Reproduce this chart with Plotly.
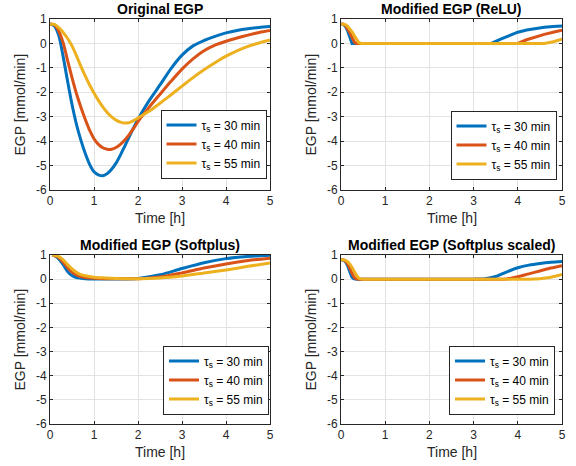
import plotly.graph_objects as go

# ---------------- data ----------------
SERIES_NAMES = ["τ<sub>s</sub> = 30 min", "τ<sub>s</sub> = 40 min", "τ<sub>s</sub> = 55 min"]
COLORS = ["#0072BD", "#D95319", "#EDB120"]
PANEL_TITLES = ["Original EGP", "Modified EGP (ReLU)", "Modified EGP (Softplus)", "Modified EGP (Softplus scaled)"]
X_TICKS = [0, 1, 2, 3, 4, 5]
Y_TICKS = [-6, -5, -4, -3, -2, -1, 0, 1]
Y_TICK_LABELS = ["-6", "-5", "-4", "-3", "-2", "-1", "0", "1"]

# Original EGP
T_ORIG = [0, 0.1, 0.2, 0.3, 0.4, 0.5, 0.6, 0.7, 0.8, 0.9, 1.0, 1.1, 1.2, 1.3, 1.4, 1.5, 1.6, 1.7, 1.8, 1.9, 2.0,
          2.25, 2.5, 2.75, 3.0, 3.25, 3.5, 3.75, 4.0, 4.25, 4.5, 4.75, 5.0]
ORIG_30 = [0.80, 0.72, 0.32, -0.55, -1.55, -2.5, -3.3, -3.95, -4.5, -4.95, -5.25, -5.38, -5.42, -5.33, -5.15, -4.9,
           -4.57, -4.2, -3.82, -3.45, -3.1, -2.35, -1.7, -1.03, -0.48, -0.1, 0.12, 0.29, 0.43, 0.53, 0.6, 0.65, 0.69]
ORIG_40 = [0.80, 0.76, 0.5, 0.02, -0.7, -1.4, -2.05, -2.6, -3.1, -3.55, -3.9, -4.13, -4.27, -4.33, -4.33, -4.26,
           -4.13, -3.95, -3.73, -3.48, -3.2, -2.62, -2.08, -1.55, -1.05, -0.63, -0.3, -0.07, 0.09, 0.22, 0.34, 0.45, 0.53]
ORIG_55 = [0.80, 0.78, 0.65, 0.45, 0.2, -0.1, -0.5, -0.93, -1.33, -1.7, -2.03, -2.33, -2.6, -2.83, -3.01, -3.14,
           -3.22, -3.26, -3.24, -3.16, -3.05, -2.78, -2.45, -2.1, -1.75, -1.4, -1.08, -0.79, -0.52, -0.3, -0.12, 0.02, 0.14]

# ReLU
T_RELU = [0, 0.05, 0.1, 0.15, 0.2, 0.25, 0.3, 0.35, 0.4, 0.45, 0.5, 1, 1.5, 2, 2.5, 3, 3.2, 3.4, 3.6, 3.8, 4.0,
          4.2, 4.4, 4.6, 4.8, 5.0]
RELU_30 = [0.8, 0.78, 0.7, 0.52, 0.25, 0.0, 0, 0, 0, 0, 0, 0, 0, 0, 0, 0, 0, 0, 0.17, 0.33, 0.46,
           0.55, 0.61, 0.66, 0.69, 0.71]
RELU_40 = [0.8, 0.79, 0.74, 0.62, 0.45, 0.25, 0.06, 0, 0, 0, 0, 0, 0, 0, 0, 0, 0, 0, 0, 0, 0,
           0.15, 0.27, 0.37, 0.46, 0.54]
RELU_55 = [0.8, 0.8, 0.77, 0.7, 0.6, 0.47, 0.32, 0.17, 0.04, 0, 0, 0, 0, 0, 0, 0, 0, 0, 0, 0, 0,
           0, 0, 0, 0.07, 0.17]

# Softplus
T_SOFT = [0.05, 0.1, 0.2, 0.3, 0.4, 0.5, 0.6, 0.7, 0.8, 1.0, 1.25, 1.5, 2.0, 2.5, 3.0, 3.5, 4.0, 4.5, 5.0]
SOFT_30 = [1.0, 0.97, 0.84, 0.6, 0.32, 0.15, 0.07, 0.04, 0.02, 0.01, 0.01, 0.01, 0.03, 0.18, 0.44, 0.68, 0.85, 0.94, 0.99]
SOFT_40 = [1.0, 0.98, 0.89, 0.7, 0.47, 0.29, 0.18, 0.11, 0.07, 0.04, 0.02, 0.02, 0.02, 0.09, 0.26, 0.46, 0.63, 0.77, 0.87]
SOFT_55 = [1.0, 0.99, 0.93, 0.8, 0.6, 0.42, 0.28, 0.19, 0.14, 0.08, 0.05, 0.03, 0.02, 0.05, 0.13, 0.25, 0.38, 0.53, 0.67]

# Softplus scaled
T_SCALED = [0, 0.05, 0.1, 0.15, 0.2, 0.25, 0.3, 0.35, 0.4, 0.45, 0.5, 0.75, 1, 2, 3, 3.25, 3.5, 3.75, 4.0,
            4.25, 4.5, 4.75, 5.0]
SCALED_30 = [0.8, 0.79, 0.72, 0.55, 0.3, 0.08, 0.01, 0, 0, 0, 0, 0, 0, 0, 0, 0.02, 0.11, 0.3, 0.47,
             0.58, 0.65, 0.7, 0.73]
SCALED_40 = [0.8, 0.8, 0.75, 0.63, 0.45, 0.24, 0.07, 0.01, 0, 0, 0, 0, 0, 0, 0, 0, 0, 0.01, 0.1,
             0.22, 0.34, 0.46, 0.56]
SCALED_55 = [0.8, 0.8, 0.78, 0.72, 0.62, 0.48, 0.32, 0.16, 0.05, 0.01, 0, 0, 0, 0, 0, 0, 0, 0, 0,
             0, 0.02, 0.08, 0.19]

PANELS = [
    (T_ORIG, [ORIG_30, ORIG_40, ORIG_55], "spline"),
    (T_RELU, [RELU_30, RELU_40, RELU_55], "linear"),
    (T_SOFT, [SOFT_30, SOFT_40, SOFT_55], "spline"),
    (T_SCALED, [SCALED_30, SCALED_40, SCALED_55], "spline"),
]

# ---------------- layout ----------------
W, H = 576, 466
FONT = "Liberation Sans, Arial, Helvetica, sans-serif"
AX_COLOR = "#262626"
GRID = "#e3e3e3"

X_DOMAINS = [[50 / W, 270 / W], [341 / W, 562 / W], [50 / W, 270 / W], [341 / W, 562 / W]]
Y_DOMAINS = [[1 - 190 / H, 1 - 19 / H], [1 - 190 / H, 1 - 19 / H],
             [1 - 424 / H, 1 - 255 / H], [1 - 424 / H, 1 - 255 / H]]
LEGEND_POS = [(266.5 / W, 1 - 178.5 / H), (556.5 / W, 1 - 179.5 / H),
              (269 / W, 1 - 414.5 / H), (555 / W, 1 - 414.5 / H)]

fig = go.Figure()
layout = dict(
    width=W, height=H, margin=dict(l=0, r=0, t=0, b=0, autoexpand=False),
    paper_bgcolor="white", plot_bgcolor="white",
    font=dict(family=FONT, size=12, color=AX_COLOR),
    annotations=[],
)

for i, (t, series, shape) in enumerate(PANELS):
    n = i + 1
    xa = "x" if n == 1 else f"x{n}"
    ya = "y" if n == 1 else f"y{n}"
    lg = "legend" if n == 1 else f"legend{n}"
    for j, vals in enumerate(series):
        fig.add_trace(go.Scatter(
            x=t, y=vals, mode="lines", name=SERIES_NAMES[j],
            line=dict(color=COLORS[j], width=3, shape=shape, smoothing=0.8 if shape == "spline" else None),
            xaxis=xa, yaxis=ya, legend=lg, showlegend=True,
        ))
    axkey = "xaxis" if n == 1 else f"xaxis{n}"
    aykey = "yaxis" if n == 1 else f"yaxis{n}"
    layout[axkey] = dict(
        domain=X_DOMAINS[i], anchor=ya, range=[0, 5], tickvals=X_TICKS,
        ticks="inside", ticklen=3, tickcolor=AX_COLOR, showline=True, linecolor=AX_COLOR,
        linewidth=1, mirror="ticks", showgrid=True, gridcolor=GRID, gridwidth=1, zeroline=False,
        tickfont=dict(size=12, color=AX_COLOR, family=FONT), fixedrange=True, automargin=False,
    )
    layout[aykey] = dict(
        domain=Y_DOMAINS[i], anchor=xa, range=[-6, 1], tickvals=Y_TICKS, ticktext=Y_TICK_LABELS,
        ticks="inside", ticklen=3, tickcolor=AX_COLOR, showline=True, linecolor=AX_COLOR,
        linewidth=1, mirror="ticks", showgrid=True, gridcolor=GRID, gridwidth=1, zeroline=False,
        tickfont=dict(size=12, color=AX_COLOR, family=FONT), fixedrange=True, automargin=False,
    )
    lx, ly = LEGEND_POS[i]
    layout[lg] = dict(
        x=lx, y=ly, xanchor="right", yanchor="bottom", xref="paper", yref="paper",
        bgcolor="white", bordercolor=AX_COLOR, borderwidth=1,
        font=dict(size=12, color="#000000", family=FONT), tracegroupgap=0,
    )
    xdom = f"{xa} domain"
    ydom = f"{ya} domain"
    layout["annotations"] += [
        dict(text=f"<b>{PANEL_TITLES[i]}</b>", xref=xdom, yref=ydom, x=0.5, y=1,
             xanchor="center", yanchor="bottom", yshift=0, showarrow=False,
             font=dict(size=14, color="#000000", family=FONT)),
        dict(text="Time [h]", xref=xdom, yref=ydom, x=0.5, y=0, xanchor="center",
             yanchor="middle", yshift=-28, showarrow=False,
             font=dict(size=14, color=AX_COLOR, family=FONT)),
        dict(text="EGP [mmol/min]", xref=xdom, yref=ydom, x=0, y=0.5, xanchor="center",
             yanchor="middle", xshift=-31, textangle=-90, showarrow=False,
             font=dict(size=14, color=AX_COLOR, family=FONT)),
    ]

fig.update_layout(**layout)
# the page body has a default 8px margin; remove it so the figure sits at the window's corner
fig.write_html("out.html", config={"displayModeBar": False},
               post_script="document.body.style.margin='0px';")
